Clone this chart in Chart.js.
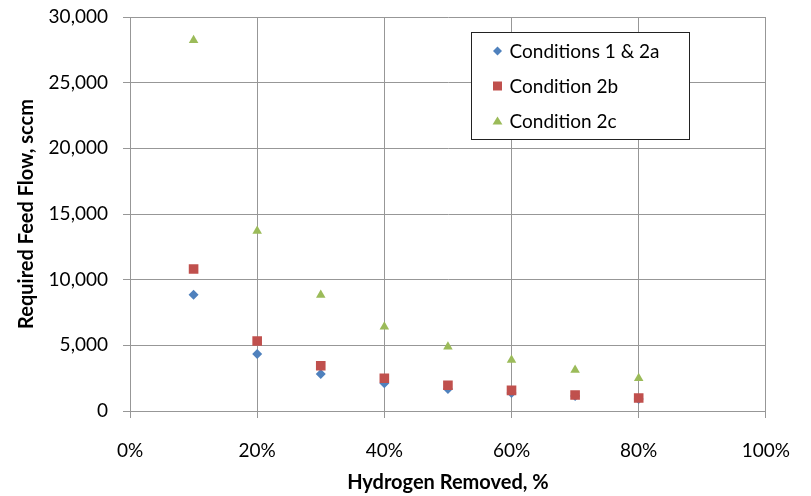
<!DOCTYPE html>
<html>
<head>
<meta charset="utf-8">
<script src="https://cdn.jsdelivr.net/npm/chart.js@4/dist/chart.umd.min.js"></script>
<style>
  html, body { margin: 0; padding: 0; background: #fff; }
  #wrap { width: 811px; height: 496px; position: relative; }
</style>
</head>
<body>
<div id="wrap"><canvas id="feedChart"></canvas></div>
<script>
// hydrogen removed (fraction)
const hydrogenRemoved = [0.1, 0.2, 0.3, 0.4, 0.5, 0.6, 0.7, 0.8];

// required feed flow, sccm
const cond1and2a = [8850, 4340, 2820, 2110, 1670, 1370, 1140, 920];
const cond2b = [10810, 5330, 3450, 2490, 1960, 1570, 1220, 990];
const cond2c = [28230, 13700, 8830, 6420, 4890, 3880, 3120, 2490];

const seriesNames = ['Conditions 1 & 2a', 'Condition 2b', 'Condition 2c'];
const yTicks = [0, 5000, 10000, 15000, 20000, 25000, 30000];
const xTicks = [0, 0.2, 0.4, 0.6, 0.8, 1.0];

const toPoints = vals => hydrogenRemoved.map((x, i) => ({ x: x, y: vals[i] }));

const FONT = 'Lato, "Liberation Sans", sans-serif';
const GRID = '#979797';

// draw a marker shape (used for the boxed legend)
function drawMarker(ctx, style, x, y, r) {
  ctx.beginPath();
  if (style === 'rectRot') {
    ctx.moveTo(x, y - r); ctx.lineTo(x + r, y); ctx.lineTo(x, y + r); ctx.lineTo(x - r, y);
  } else if (style === 'rect') {
    ctx.rect(x - r, y - r, 2 * r, 2 * r);
  } else {
    ctx.moveTo(x, y - r); ctx.lineTo(x + r * 1.1, y + r * 0.75); ctx.lineTo(x - r * 1.1, y + r * 0.75);
  }
  ctx.closePath();
  ctx.fill();
}

const boxLegend = {
  id: 'boxLegend',
  afterDraw(chart) {
    const ctx = chart.ctx;
    const left = 471.5, top = 32.5, w = 218, h = 107;
    ctx.save();
    ctx.fillStyle = '#fff';
    ctx.fillRect(left, top, w, h);
    ctx.strokeStyle = '#222';
    ctx.lineWidth = 1;
    ctx.strokeRect(left, top, w, h);
    ctx.font = '19px ' + FONT;
    ctx.textBaseline = 'middle';
    const sizes = { rectRot: 4.5, rect: 4.5, triangle: 4.5 };
    chart.data.datasets.forEach((ds, i) => {
      const y = top + 18.5 + i * 35;
      ctx.fillStyle = ds.backgroundColor;
      drawMarker(ctx, ds.pointStyle, left + 26, y, sizes[ds.pointStyle]);
      ctx.fillStyle = '#000';
      ctx.fillText(ds.label, left + 38, y + 1);
    });
    ctx.restore();
  }
};

new Chart(document.getElementById('feedChart'), {
  type: 'scatter',
  data: {
    datasets: [
      {
        label: seriesNames[0],
        data: toPoints(cond1and2a),
        pointStyle: 'rectRot',
        pointRadius: 5,
        backgroundColor: '#4F81BD',
        borderColor: '#4F81BD',
        borderWidth: 0,
        order: 3
      },
      {
        label: seriesNames[1],
        data: toPoints(cond2b),
        pointStyle: 'rect',
        pointRadius: 6.8,
        backgroundColor: '#C0504D',
        borderColor: '#C0504D',
        borderWidth: 0,
        order: 2
      },
      {
        label: seriesNames[2],
        data: toPoints(cond2c),
        pointStyle: 'triangle',
        pointRadius: 5.5,
        backgroundColor: '#9BBB59',
        borderColor: '#9BBB59',
        borderWidth: 0,
        order: 1
      }
    ]
  },
  options: {
    responsive: true,
    maintainAspectRatio: false,
    animation: false,
    layout: { padding: { left: 0, right: 40, top: 17, bottom: 0 } },
    plugins: {
      legend: { display: false },
      tooltip: { enabled: false }
    },
    scales: {
      x: {
        type: 'linear',
        min: 0,
        max: 1,
        afterFit: s => { s.height = 85; },
        afterBuildTicks: s => { s.ticks = xTicks.map(v => ({ value: v })); },
        ticks: {
          padding: 21,
          color: '#000',
          font: { family: FONT, size: 19 },
          callback: v => Math.round(v * 100) + '%'
        },
        grid: { color: GRID, lineWidth: 1, tickLength: 7 },
        border: { color: GRID },
        title: {
          display: true,
          text: 'Hydrogen Removed, %',
          color: '#000',
          font: { family: FONT, size: 20, weight: 'bold' },
          padding: { top: 0, bottom: 1 }
        }
      },
      y: {
        min: 0,
        max: 30000,
        // fixed width, and let the top tick label overhang the plot area
        afterFit: s => { s.width = 130; s.paddingTop = 0; s.paddingBottom = 0; },
        afterBuildTicks: s => { s.ticks = yTicks.map(v => ({ value: v })); },
        ticks: {
          padding: 15,
          color: '#000',
          font: { family: FONT, size: 19 },
          callback: v => v.toLocaleString('en-US')
        },
        grid: { color: GRID, lineWidth: 1, tickLength: 7 },
        border: { color: GRID },
        title: {
          display: true,
          text: 'Required Feed Flow, sccm',
          color: '#000',
          font: { family: FONT, size: 20, weight: 'bold' },
          padding: { top: 15, bottom: 0 }
        }
      }
    }
  },
  plugins: [boxLegend]
});
</script>
</body>
</html>
